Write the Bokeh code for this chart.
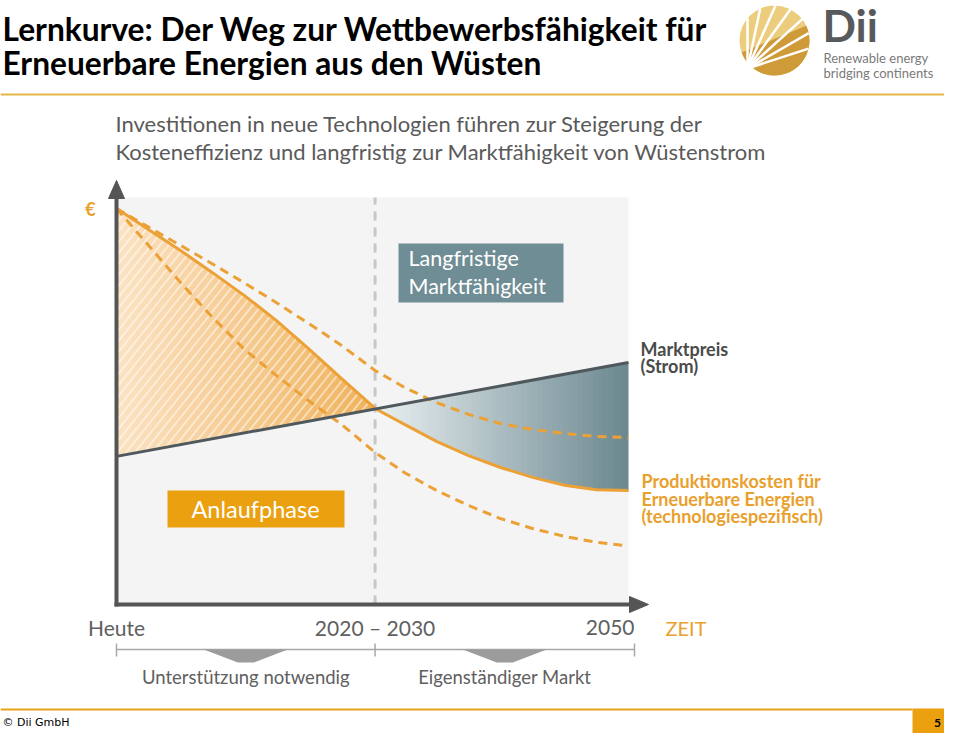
import numpy as np
from bokeh.plotting import figure
from bokeh.models import Range1d
from bokeh.core.properties import value
from bokeh.embed import file_html
from bokeh.resources import INLINE

# ---------------- data (time index: Heute = 0, 2020-2030 ~ 1, 2050 = 2; cost: start level = 100) ----
TIME_LABELS = ["Heute", "2020 \u2013 2030", "2050"]
TIME_POS = [0.0, 1.01, 2.0]
PHASE_LABELS = ["Unterst\u00fctzung notwendig", "Eigenst\u00e4ndiger Markt"]

COST_T = [0.0, 0.125, 0.25, 0.375, 0.5, 0.625, 0.75, 0.875, 1.01,
          1.125, 1.25, 1.375, 1.5, 1.625, 1.75, 1.875, 2.0]
COST_MAIN = [100.0, 94.7, 89.4, 83.8, 78.0, 71.7, 64.6, 57.3, 49.5,
             45.5, 41.2, 37.6, 34.6, 32.1, 30.1, 29.0, 28.8]
COST_UPPER = [100.0, 95.3, 90.7, 86.0, 81.2, 76.2, 71.0, 65.6, 59.1,
              54.8, 51.0, 48.0, 45.7, 44.2, 43.2, 42.4, 42.2]
LOWER_T = [0.0, 0.125, 0.25, 0.375, 0.5, 0.625, 0.75, 0.875, 1.01,
           1.125, 1.25, 1.375, 1.5, 1.625, 1.75, 1.875, 1.98]
COST_LOWER = [100.0, 90.7, 81.3, 72.5, 64.4, 57.8, 51.5, 45.7, 38.4,
              33.3, 28.8, 25.0, 21.7, 19.2, 17.2, 15.7, 14.9]
PRICE_T = [0.0, 2.0]
PRICE = [37.4, 61.1]
CROSS_T = 1.01

# ---------------- layout helpers (slide pixel -> chart units) ----------------
X0, SX = 116.0, 256.0
Y0, SY = 604.0, 3.96
W, H = 944, 733


def X(px):
    return (px - X0) / SX


def Y(py):
    return (Y0 - py) / SY


def P(pxs, pys):
    return [X(v) for v in pxs], [Y(v) for v in pys]


p = figure(width=W, height=H,
           x_range=Range1d(X(0), X(W)), y_range=Range1d(Y(H), Y(0)),
           output_backend="svg", toolbar_location=None,
           x_axis_type=None, y_axis_type=None, min_border=0,
           outline_line_color=None)
p.background_fill_color = "white"
p.border_fill_color = "white"

ORANGE = "#eba136"
TXT_ORANGE = "#e9a02c"
GRAY_TXT = "#606060"


def txt(px, py, s, size, color, bold=False, align="left", font="Lato", mid=False):
    # py is the text baseline (or the centre when mid=True)
    yc = py if mid else py - 0.34 * size
    p.text(x=[X(px)], y=[Y(yc)], text=[s], text_font=value(font),
           text_font_size=f"{size}px", text_font_style="bold" if bold else "normal",
           text_color=color, text_align=align, text_baseline="middle")


def mix(c0, c1, f):
    a = [int(c0[i:i + 2], 16) for i in (1, 3, 5)]
    b = [int(c1[i:i + 2], 16) for i in (1, 3, 5)]
    return "#%02x%02x%02x" % tuple(int(round(a[k] + (b[k] - a[k]) * f)) for k in range(3))


# ---------------- chart panel ----------------
p.quad(left=[X(116)], right=[X(628)], top=[Y(197)], bottom=[Y(604)],
       fill_color="#f4f4f4", line_color=None)


def strips(t0, t1, n, c0, c1, orange):
    edges = np.linspace(t0, t1, n + 1)
    for i in range(n):
        a, b = edges[i], min(edges[i + 1] + 0.004, t1)
        ts = np.array([a, b])
        main = np.interp(ts, COST_T, COST_MAIN)
        price = np.interp(ts, PRICE_T, PRICE)
        col = mix(c0, c1, i / (n - 1))
        if orange:
            p.varea(x=ts, y1=price, y2=main, fill_color=col, fill_alpha=1.0)
        else:
            p.varea(x=ts, y1=main, y2=price, fill_color=col, fill_alpha=1.0)


strips(0.0, CROSS_T, 50, "#fbe2c2", "#f0b25c", True)
strips(CROSS_T, 2.0, 50, "#e9eff1", "#6c8990", False)

# white diagonal stripes ("/") inside the support-phase area
sx0, sx1, sy0, sy1 = [], [], [], []
gx = np.arange(116.0, 116.0 + SX * CROSS_T, 0.5)
gt = X(gx)
g_top = np.interp(gt, COST_T, COST_MAIN)
g_bot = np.interp(gt, PRICE_T, PRICE)
for c in np.arange(200.0, 800.0, 11.0):
    ly = Y(c - 1.25 * (gx - 116.0))
    m = np.where((ly <= g_top) & (ly >= g_bot))[0]
    if len(m) > 1:
        sx0.append(gt[m[0]]); sx1.append(gt[m[-1]])
        sy0.append(ly[m[0]]); sy1.append(ly[m[-1]])
p.segment(x0=sx0, y0=sy0, x1=sx1, y1=sy1, line_color="white", line_alpha=0.5, line_width=2)

# vertical dashed line at 2020-2030
p.line(x=[TIME_POS[1], TIME_POS[1]], y=[Y(604), Y(197)], line_color="#c8c8c8",
       line_width=3, line_dash="9 7")

# curves
p.line(COST_T, COST_UPPER, line_color=ORANGE, line_width=3, line_dash="9 6")
p.line(LOWER_T, COST_LOWER, line_color=ORANGE, line_width=3, line_dash="9 6")
p.line(COST_T, COST_MAIN, line_color=ORANGE, line_width=3)
p.line(PRICE_T, PRICE, line_color="#4f585c", line_width=3)

# axes with arrow heads
p.line(*P([116, 116], [606, 196]), line_color="#555555", line_width=4)
p.patch(*P([108, 124, 116], [198, 198, 180]), fill_color="#555555", line_color="#555555")
p.line(*P([114, 630], [604, 604]), line_color="#555555", line_width=4)
p.patch(*P([629, 629, 648], [596, 612, 604]), fill_color="#555555", line_color="#555555")

# boxes
p.quad(left=[X(398)], right=[X(563)], top=[Y(243)], bottom=[Y(302)],
       fill_color="#6f8d94", line_color=None)
txt(408, 265, "Langfristige", 21.5, "white")
txt(408, 293, "Marktf\u00e4higkeit", 21.5, "white")

p.quad(left=[X(167)], right=[X(344)], top=[Y(490)], bottom=[Y(527)],
       fill_color="#eba00f", line_color=None)
txt(255, 508, "Anlaufphase", 23.5, "white", align="center", mid=True)

# series labels
txt(90, 208, "\u20ac", 18, TXT_ORANGE, bold=True, align="center", mid=True)
txt(640, 355, "Marktpreis", 18, "#4a4a4a", bold=True)
txt(640, 372, "(Strom)", 18, "#4a4a4a", bold=True)
txt(641, 487, "Produktionskosten f\u00fcr", 18, TXT_ORANGE, bold=True)
txt(641, 505, "Erneuerbare Energien", 18, TXT_ORANGE, bold=True)
txt(641, 522, "(technologiespezifisch)", 18, TXT_ORANGE, bold=True)

# subtitle
txt(115, 130, "Investitionen in neue Technologien f\u00fchren zur Steigerung der", 22, "#5a5a5a")
txt(115, 158, "Kosteneffizienz und langfristig zur Marktf\u00e4higkeit von W\u00fcstenstrom", 22, "#5a5a5a")

# time labels
p.text(x=[TIME_POS[0], TIME_POS[1], X(634)], y=[Y(627)] * 3, text=TIME_LABELS,
       text_font=value("Lato"), text_font_size="21px", text_color=GRAY_TXT,
       text_align=["center", "center", "right"], text_baseline="middle")
txt(665, 627, "ZEIT", 20, TXT_ORANGE, mid=True)

# phase bracket
bx = [TIME_POS[0], TIME_POS[1], X(634)]
p.line(x=[bx[0], bx[2]], y=[Y(649), Y(649)], line_color="#a8a8a8", line_width=1.5)
p.segment(x0=bx, x1=bx, y0=[Y(643)] * 3, y1=[Y(656)] * 3, line_color="#a8a8a8", line_width=1.5)
for i in range(2):
    cxp = X0 + SX * (bx[i] + bx[i + 1]) / 2
    p.patch(*P([cxp - 42, cxp + 42, cxp + 8, cxp - 8], [649, 649, 662, 662]),
            fill_color="#9c9c9c", line_color=None)
    p.text(x=[(bx[i] + bx[i + 1]) / 2], y=[Y(676)], text=[PHASE_LABELS[i]],
           text_font=value("Lato"), text_font_size="18.5px", text_color=GRAY_TXT,
           text_align="center", text_baseline="middle")

# ---------------- header ----------------
txt(2, 39, "Lernkurve: Der Weg zur Wettbewerbsf\u00e4higkeit f\u00fcr", 31.7, "black", bold=True)
txt(2, 73, "Erneuerbare Energien aus den W\u00fcsten", 31.7, "black", bold=True)
p.line(*P([0, W], [94, 94]), line_color="#e5b548", line_width=2)

# logo
cx, cy, r = 774.0, 40.0, 35.0
p.scatter(x=[X(cx)], y=[Y(cy)], size=2 * r, marker="circle", fill_color="#eccd7e", line_color=None)
ang = np.radians(np.linspace(-160, 25, 60))
p.patch(*P(list(cx + r * np.cos(ang)), list(cy - r * np.sin(ang))),
        fill_color="#cf9a38", line_color=None)
ox, oy = 747.0, 68.0
for a in [18, 30, 42, 54, 66, 78, 90]:
    dx, dy = np.cos(np.radians(a)), -np.sin(np.radians(a))
    fx, fy = ox - cx, oy - cy
    bq = fx * dx + fy * dy
    s = -bq + np.sqrt(bq * bq - (fx * fx + fy * fy - r * r))
    p.line(*P([ox, ox + s * dx], [oy, oy + s * dy]), line_color="white", line_width=2.5)
txt(822, 39, "Dii", 44, "#58595b", bold=True)
txt(823, 62, "Renewable energy", 13, "#7a7a7a")
txt(823, 77, "bridging continents", 13, "#7a7a7a")

# ---------------- footer ----------------
p.line(*P([0, 912], [709, 709]), line_color="#e8a317", line_width=2)
p.quad(left=[X(912)], right=[X(W)], top=[Y(708)], bottom=[Y(H)],
       fill_color="#eba00f", line_color=None)
txt(937, 722, "5", 12, "black", bold=True, align="center", mid=True)
txt(2, 722, "\u00a9 Dii GmbH", 11, "black", font="DejaVu Sans", mid=True)

open("out.html", "w").write(file_html(p, INLINE))
